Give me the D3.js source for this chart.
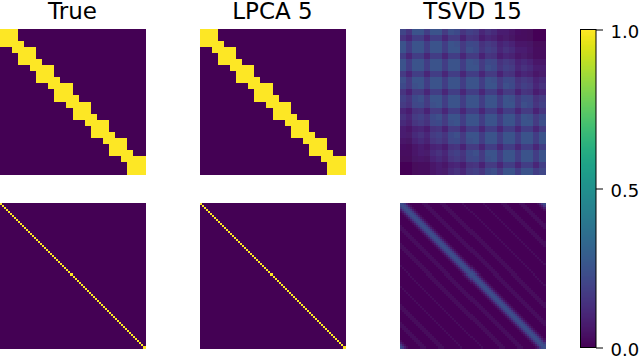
<!DOCTYPE html>
<html>
<head>
<meta charset="utf-8">
<script src="https://cdn.jsdelivr.net/npm/d3@7"></script>
<style>
  html, body { margin: 0; padding: 0; background: #fff; overflow: hidden; }
  text { font-family: "DejaVu Sans", sans-serif; fill: #000; }
</style>
</head>
<body>
<script>
const titles = ['True', 'LPCA 5', 'TSVD 15'];
const colorTicks = [0, 0.5, 1];

// coarse block matrix, first and last lit column of every row
const blockStart = [0, 0, 0, 2, 3, 3, 5, 6, 6, 8, 9, 9, 11, 12, 12, 14, 15, 15, 17, 18, 18, 20, 21, 21];
const blockEnd = [2, 2, 3, 5, 5, 6, 8, 8, 9, 11, 11, 12, 14, 14, 15, 17, 17, 18, 20, 20, 21, 23, 23, 23];

// fine matrix, the lit column of every row
const fineDiagonal = [
  0, 1, 2, 3, 4, 5, 6, 7, 8, 9, 10, 11, 12, 13, 14, 15, 16, 17,
  18, 19, 20, 21, 22, 23, 24, 25, 26, 27, 28, 29, 30, 31, 32, 33, 34, 35,
  36, 37, 38, 39, 40, 41, 42, 43, 44, 45, 46, 47, 48, 49, 50, 51, 52, 53,
  54, 55, 56, 57, 58, 59, 60, 61, 62, 63, 64, 65, 66, 67, 68, 69, 70, 71
];

// TSVD of the block matrix
const tsvdBlock = [
  [.20,.15,.25,.25,.18,.25,.25,.17,.24,.22,.15,.19,.17,.11,.14,.12,.08,.08,.06,.04,.03,.02,.01,.00],
  [.15,.11,.18,.18,.11,.18,.18,.11,.17,.17,.10,.15,.14,.08,.11,.09,.06,.07,.05,.03,.03,.02,.01,.01],
  [.25,.18,.25,.25,.18,.25,.25,.18,.25,.24,.17,.22,.21,.14,.17,.15,.10,.12,.10,.06,.06,.05,.02,.02],
  [.25,.18,.25,.25,.18,.25,.25,.18,.25,.25,.17,.24,.22,.15,.19,.17,.11,.14,.12,.08,.08,.06,.03,.03],
  [.18,.11,.18,.18,.11,.18,.18,.11,.18,.18,.11,.17,.17,.10,.15,.14,.08,.11,.09,.06,.07,.05,.03,.03],
  [.25,.18,.25,.25,.18,.25,.25,.18,.25,.25,.18,.25,.24,.17,.22,.21,.14,.17,.15,.10,.12,.10,.06,.06],
  [.25,.18,.25,.25,.18,.25,.25,.18,.25,.25,.18,.25,.25,.17,.24,.22,.15,.19,.17,.11,.14,.12,.08,.08],
  [.17,.11,.18,.18,.11,.18,.18,.11,.18,.18,.11,.18,.18,.11,.17,.17,.10,.15,.14,.08,.11,.09,.06,.07],
  [.24,.17,.25,.25,.18,.25,.25,.18,.25,.25,.18,.25,.25,.18,.25,.24,.17,.22,.21,.14,.17,.15,.10,.12],
  [.22,.17,.24,.25,.18,.25,.25,.18,.25,.25,.18,.25,.25,.18,.25,.25,.17,.24,.22,.15,.19,.17,.11,.14],
  [.15,.10,.17,.17,.11,.18,.18,.11,.18,.18,.11,.18,.18,.11,.18,.18,.11,.17,.17,.10,.15,.14,.08,.11],
  [.19,.15,.22,.24,.17,.25,.25,.18,.25,.25,.18,.25,.25,.18,.25,.25,.18,.25,.24,.17,.22,.21,.14,.17],
  [.17,.14,.21,.22,.17,.24,.25,.18,.25,.25,.18,.25,.25,.18,.25,.25,.18,.25,.25,.17,.24,.22,.15,.19],
  [.11,.08,.14,.15,.10,.17,.17,.11,.18,.18,.11,.18,.18,.11,.18,.18,.11,.18,.18,.11,.17,.17,.10,.15],
  [.14,.11,.17,.19,.15,.22,.24,.17,.25,.25,.18,.25,.25,.18,.25,.25,.18,.25,.25,.18,.25,.24,.17,.22],
  [.12,.09,.15,.17,.14,.21,.22,.17,.24,.25,.18,.25,.25,.18,.25,.25,.18,.25,.25,.18,.25,.25,.17,.24],
  [.08,.06,.10,.11,.08,.14,.15,.10,.17,.17,.11,.18,.18,.11,.18,.18,.11,.18,.18,.11,.18,.18,.11,.17],
  [.08,.07,.12,.14,.11,.17,.19,.15,.22,.24,.17,.25,.25,.18,.25,.25,.18,.25,.25,.18,.25,.25,.18,.25],
  [.06,.05,.10,.12,.09,.15,.17,.14,.21,.22,.17,.24,.25,.18,.25,.25,.18,.25,.25,.18,.25,.25,.18,.25],
  [.04,.03,.06,.08,.06,.10,.11,.08,.14,.15,.10,.17,.17,.11,.18,.18,.11,.18,.18,.11,.18,.18,.11,.18],
  [.03,.03,.06,.08,.07,.12,.14,.11,.17,.19,.15,.22,.24,.17,.25,.25,.18,.25,.25,.18,.25,.25,.18,.25],
  [.02,.02,.05,.06,.05,.10,.12,.09,.15,.17,.14,.21,.22,.17,.24,.25,.18,.25,.25,.18,.25,.25,.18,.25],
  [.01,.01,.02,.03,.03,.06,.08,.06,.10,.11,.08,.14,.15,.10,.17,.17,.11,.18,.18,.11,.18,.18,.11,.18],
  [.00,.01,.02,.03,.03,.06,.08,.07,.12,.14,.11,.17,.19,.15,.22,.24,.17,.25,.25,.18,.25,.25,.18,.21]
];

// TSVD of the fine matrix is circulant: value by distance from the diagonal
const tsvdFineProfile = [
  .24, .22, .16, .08, .02, 0, 0, 0, 0, 0, .01, .02, .03, .02, .01, 0, 0, 0, 0,
  .01, .02, .02, .02, .01, 0, 0, 0, 0, 0, .01, .01, .02, .01, 0, 0, 0, 0
];

const width = 640, height = 356;
const panelX = [0, 200, 400];
const panelY = [29, 203];
const panelSize = 145;

const color = d3.scaleSequential(d3.interpolateViridis).domain([0, 1]);

const svg = d3.select('body').append('svg')
  .attr('width', width)
  .attr('height', height)
  .style('display', 'block');

// the reference is a resampled image, soften the TSVD panels a little
const blur = svg.append('defs').append('filter')
  .attr('id', 'soft')
  .attr('x', '-1%').attr('y', '-1%')
  .attr('width', '102%').attr('height', '102%');
blur.append('feGaussianBlur').attr('stdDeviation', 0.7);

function blockValue(r, c) {
  return c >= blockStart[r] && c <= blockEnd[r] ? 1 : 0;
}
function fineValue(r, c) {
  return fineDiagonal[r] === c ? 1 : 0;
}
function tsvdFineValue(r, c) {
  const d = Math.abs(r - c);
  return tsvdFineProfile[Math.min(d, fineDiagonal.length - d)];
}

function drawPanel(x0, y0, n, value, soft) {
  const idx = d3.range(n);
  const xScale = d3.scaleBand().domain(idx).range([x0, x0 + panelSize]);
  const yScale = d3.scaleBand().domain(idx).range([y0, y0 + panelSize]);
  const cells = idx.flatMap(r => idx.map(c => ({ r, c, v: value(r, c) })));
  const g = svg.append('g').attr('shape-rendering', 'crispEdges');
  if (soft) g.attr('filter', 'url(#soft)');
  g.selectAll('rect')
    .data(cells)
    .enter()
    .append('rect')
    .attr('x', d => xScale(d.c))
    .attr('y', d => yScale(d.r))
    .attr('width', xScale.bandwidth() + 0.5)
    .attr('height', yScale.bandwidth() + 0.5)
    .attr('fill', d => color(d.v));
}

drawPanel(panelX[0], panelY[0], 24, blockValue, false);
drawPanel(panelX[1], panelY[0], 24, blockValue, false);
drawPanel(panelX[2], panelY[0], 24, (r, c) => tsvdBlock[r][c], true);
drawPanel(panelX[0], panelY[1], 72, fineValue, false);
drawPanel(panelX[1], panelY[1], 72, fineValue, false);
drawPanel(panelX[2], panelY[1], 72, tsvdFineValue, true);

svg.selectAll('.title')
  .data(titles)
  .enter()
  .append('text')
  .attr('class', 'title')
  .attr('x', (d, i) => panelX[i] + panelSize / 2)
  .attr('y', 19)
  .attr('text-anchor', 'middle')
  .style('font-size', '23px')
  .text(d => d);

// colorbar
const barX = 580.5, barW = 15.5, barTop = 29.5, barBottom = 347.5;
const barScale = d3.scaleLinear().domain([0, 1]).range([barBottom, barTop]);
const steps = 256;

svg.append('g')
  .attr('shape-rendering', 'crispEdges')
  .selectAll('rect')
  .data(d3.range(steps))
  .enter()
  .append('rect')
  .attr('x', barX)
  .attr('y', d => barScale((d + 1) / steps))
  .attr('width', barW)
  .attr('height', (barBottom - barTop) / steps + 0.5)
  .attr('fill', d => color(d / (steps - 1)));

svg.append('rect')
  .attr('x', barX)
  .attr('y', barTop)
  .attr('width', barW)
  .attr('height', barBottom - barTop)
  .attr('fill', 'none')
  .attr('stroke', '#000')
  .attr('stroke-width', 1);

const barAxis = d3.axisRight(barScale)
  .tickValues(colorTicks)
  .tickFormat(d3.format('.1f'))
  .tickSize(7)
  .tickPadding(7.5);

svg.append('g')
  .attr('transform', 'translate(' + (barX + barW) + ',0)')
  .call(barAxis)
  .call(g => g.select('.domain').remove())
  .call(g => g.selectAll('text')
    .attr('dy', '0.42em')
    .style('font-size', '18px')
    .style('font-family', '"DejaVu Sans", sans-serif'));
</script>
</body>
</html>
